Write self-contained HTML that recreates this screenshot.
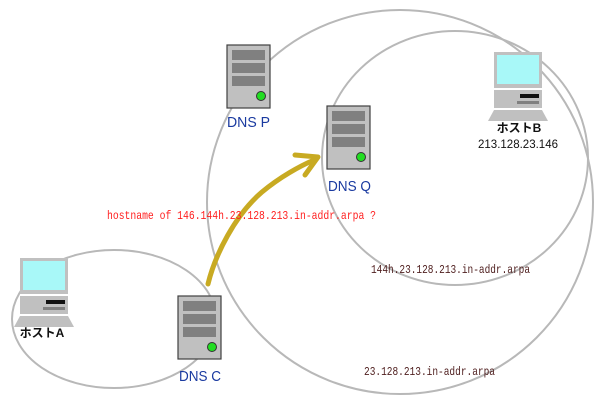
<!DOCTYPE html>
<html><head><meta charset="utf-8"><style>html,body{margin:0;padding:0;background:#fff}</style></head>
<body>
<svg width="600" height="400" xmlns="http://www.w3.org/2000/svg" font-family="Liberation Mono, monospace">
<defs>
<g id="srv">
<rect x="0" y="0" width="43" height="63" fill="#c0c0c0" stroke="#404040" stroke-width="1.2"/>
<rect x="5" y="5" width="33" height="10" fill="#808080"/>
<rect x="5" y="18" width="33" height="10" fill="#808080"/>
<rect x="5" y="31" width="33" height="10" fill="#808080"/>
<circle cx="34" cy="51" r="4.5" fill="#22dd22" stroke="#333" stroke-width="1"/>
</g>
<g id="pc">
<rect x="0" y="0" width="48" height="36" fill="#c0c0c0"/>
<rect x="3" y="3" width="42" height="29" fill="#a8f8f8"/>
<rect x="0" y="38" width="48" height="18" fill="#c0c0c0"/>
<rect x="26" y="42" width="19" height="4" fill="#111"/>
<rect x="23" y="49" width="22" height="3" fill="#808080"/>
<polygon points="0,58 48,58 54,69 -6,69" fill="#c0c0c0"/>
</g>
</defs>
<g fill="none" stroke="#b8b8b8" stroke-width="2">
<ellipse cx="114" cy="319" rx="102" ry="69"/>
<ellipse cx="400" cy="202" rx="193" ry="192"/>
<ellipse cx="455" cy="158" rx="133" ry="127"/>
</g>
<use href="#srv" x="227" y="45"/>
<use href="#srv" x="327" y="106"/>
<use href="#srv" x="178" y="296"/>
<use href="#pc" x="20" y="258"/>
<use href="#pc" x="494" y="52"/>
<path d="M208,284 C215,255 235,215 262,192 C280,177 300,166 314,160" fill="none" stroke="#c8aa22" stroke-width="5" stroke-linecap="round"/>
<path d="M295,155 L318,157 L305,175" fill="none" stroke="#c8aa22" stroke-width="5" stroke-linecap="round" stroke-linejoin="round"/>
<g fill="#1a3aa0" font-size="15" font-family="Liberation Sans, sans-serif">
<text x="227" y="127" textLength="43" lengthAdjust="spacingAndGlyphs">DNS P</text>
<text x="328" y="191" textLength="43" lengthAdjust="spacingAndGlyphs">DNS Q</text>
<text x="179" y="381" textLength="42" lengthAdjust="spacingAndGlyphs">DNS C</text>
</g>
<g font-family="Liberation Sans, Noto Sans CJK JP, sans-serif" font-size="12" font-weight="bold" fill="#111" text-anchor="middle">
<text x="42" y="337">ホストA</text>
<text x="519" y="132">ホストB</text>
</g>
<text x="478" y="148" font-size="12" fill="#111" font-family="Liberation Sans, sans-serif" textLength="80" lengthAdjust="spacingAndGlyphs">213.128.23.146</text>
<text x="107" y="219" font-size="12" fill="#ff2020" textLength="269" lengthAdjust="spacingAndGlyphs">hostname of 146.144h.23.128.213.in-addr.arpa ?</text>
<text x="371" y="273" font-size="12" fill="#502020" textLength="159" lengthAdjust="spacingAndGlyphs">144h.23.128.213.in-addr.arpa</text>
<text x="364" y="375" font-size="12" fill="#502020" textLength="131" lengthAdjust="spacingAndGlyphs">23.128.213.in-addr.arpa</text>
</svg>
</body></html>
